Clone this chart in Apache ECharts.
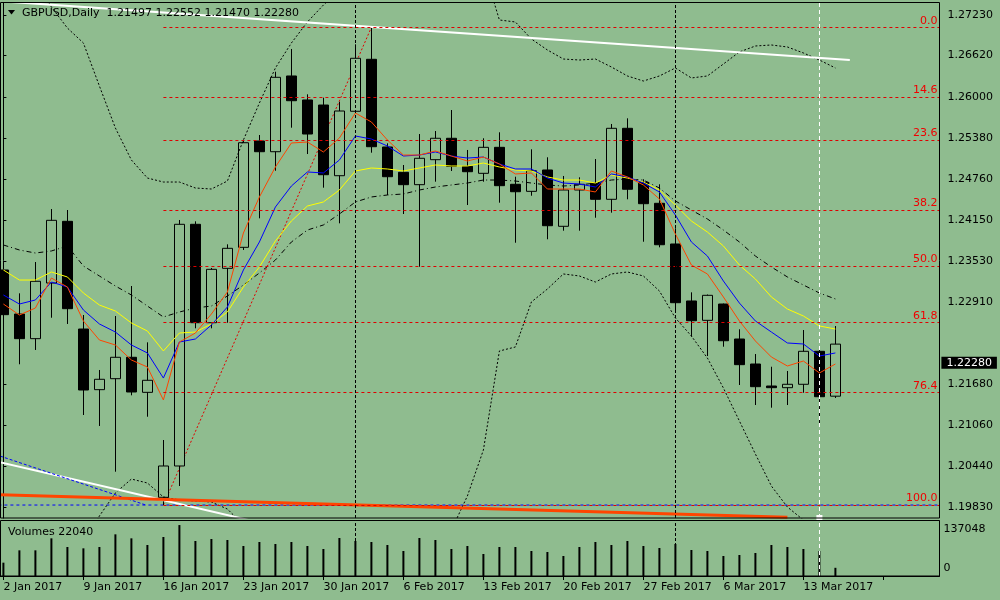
<!DOCTYPE html>
<html><head><meta charset="utf-8">
<script src="https://cdn.jsdelivr.net/npm/echarts@6/dist/echarts.min.js"></script>
<style>html,body{margin:0;padding:0;background:#8FBC8F}#c{width:1000px;height:600px}</style>
</head><body><div id="c"></div>
<script>
const dates = ['2 Jan 2017','3 Jan 2017','4 Jan 2017','5 Jan 2017','6 Jan 2017','9 Jan 2017','10 Jan 2017','11 Jan 2017','12 Jan 2017','13 Jan 2017',
'16 Jan 2017','17 Jan 2017','18 Jan 2017','19 Jan 2017','20 Jan 2017','23 Jan 2017','24 Jan 2017','25 Jan 2017','26 Jan 2017','27 Jan 2017',
'30 Jan 2017','31 Jan 2017','1 Feb 2017','2 Feb 2017','3 Feb 2017','6 Feb 2017','7 Feb 2017','8 Feb 2017','9 Feb 2017','10 Feb 2017',
'13 Feb 2017','14 Feb 2017','15 Feb 2017','16 Feb 2017','17 Feb 2017','20 Feb 2017','21 Feb 2017','22 Feb 2017','23 Feb 2017','24 Feb 2017',
'27 Feb 2017','28 Feb 2017','1 Mar 2017','2 Mar 2017','3 Mar 2017','6 Mar 2017','7 Mar 2017','8 Mar 2017','9 Mar 2017','10 Mar 2017',
'13 Mar 2017','14 Mar 2017','15 Mar 2017'];
const emptySlots = ['','','','','',''];
const opens = [1.23395,1.22733,1.22362,1.23199,1.24127,1.22507,1.21595,1.21760,1.22082,1.21555,
1.19976,1.20447,1.24082,1.22602,1.23420,1.23736,1.25335,1.25174,1.26313,1.25952,
1.25876,1.24813,1.25782,1.26564,1.25245,1.24864,1.24678,1.25054,1.25376,1.24954,
1.24849,1.25240,1.24684,1.24578,1.24899,1.24052,1.24598,1.24699,1.24458,1.25526,
1.24714,1.24398,1.23786,1.22929,1.22638,1.22883,1.22357,1.21981,1.21650,1.21625,
1.21676,1.22172,1.21497];
const highs = [1.23530,1.23044,1.23515,1.24312,1.24297,1.22718,1.21891,1.22703,1.23154,1.22307,
1.20838,1.24147,1.24127,1.23425,1.23781,1.25350,1.25425,1.26377,1.26719,1.26037,
1.25986,1.25926,1.26789,1.27050,1.25300,1.24974,1.25440,1.25485,1.25801,1.25200,
1.25376,1.25466,1.24798,1.25210,1.25090,1.24809,1.24789,1.25064,1.25591,1.25676,
1.24759,1.24684,1.24022,1.23059,1.23026,1.22890,1.22503,1.22131,1.21940,1.21876,
1.22492,1.22192,1.22552];
const lows = [1.22703,1.21977,1.22192,1.22677,1.22583,1.21214,1.21049,1.20361,1.21510,1.21188,
1.19860,1.20146,1.22518,1.22518,1.22602,1.23696,1.24172,1.24888,1.25535,1.25139,
1.24633,1.24097,1.25756,1.25159,1.24523,1.24237,1.23444,1.24723,1.24884,1.24372,
1.24723,1.24407,1.23805,1.24512,1.23857,1.23986,1.23986,1.24181,1.24257,1.24458,
1.23820,1.23736,1.22763,1.22392,1.22101,1.22241,1.21665,1.21364,1.21324,1.21364,
1.21549,1.21064,1.21470];
const closes = [1.22723,1.22362,1.23225,1.24142,1.22813,1.21590,1.21751,1.22082,1.21560,1.21736,
1.20447,1.24082,1.22602,1.23405,1.23721,1.25309,1.25174,1.26293,1.25941,1.25440,
1.24828,1.25786,1.26579,1.25249,1.24798,1.24678,1.25075,1.25376,1.24954,1.24873,
1.25240,1.24663,1.24572,1.24888,1.24061,1.24598,1.24684,1.24458,1.25526,1.24609,
1.24392,1.23775,1.22903,1.22632,1.23014,1.22331,1.21971,1.21640,1.21625,1.21676,
1.22172,1.21489,1.22280];
const volumes = [35880,69070,69070,101360,78040,74450,78040,112130,101360,83420,
104950,137048,94190,99570,96880,80730,91490,86110,91490,80730,
72660,102260,94190,91490,83420,67280,102260,96880,72660,80730,
59200,78040,78040,67280,64580,53820,78040,91490,83420,94190,
80730,75350,86110,69970,67280,53820,56510,61890,83420,78040,
72660,67280,22040];
const maRed = [1.22883,1.22718,1.22823,1.23274,1.23139,1.22628,1.22342,1.22267,1.22041,1.21936,
1.2144,1.22312,1.22447,1.22733,1.23064,1.23951,1.24493,1.24944,1.25305,1.2532,
1.2517,1.2538,1.25756,1.25621,1.2535,1.25124,1.25124,1.25185,1.25109,1.25034,
1.25094,1.24989,1.24839,1.24854,1.24613,1.24613,1.24613,1.24568,1.24884,1.24794,
1.24673,1.24463,1.23936,1.2347,1.23335,1.22989,1.22628,1.22327,1.22086,1.21951,
1.22026,1.21846,1.21981];
const maBlue = [1.23019,1.22883,1.22944,1.23214,1.23139,1.22793,1.22583,1.22462,1.22267,1.22147,
1.2177,1.22312,1.22357,1.22568,1.22838,1.23395,1.23816,1.24342,1.24658,1.24869,
1.24854,1.25049,1.2541,1.25365,1.2526,1.25109,1.25124,1.2517,1.25109,1.25079,
1.25094,1.24989,1.24914,1.24914,1.24778,1.24703,1.24688,1.24643,1.24839,1.24794,
1.24703,1.24568,1.24222,1.23816,1.23605,1.23229,1.22898,1.22628,1.22462,1.22297,
1.22282,1.22101,1.22147];
const maYellow = [1.23395,1.23244,1.23244,1.23365,1.2329,1.23049,1.22868,1.22778,1.22598,1.22477,
1.22177,1.22447,1.22462,1.22583,1.22763,1.23139,1.2344,1.23831,1.24132,1.24357,
1.24418,1.24598,1.24884,1.24929,1.24914,1.24884,1.24929,1.24974,1.24959,1.24959,
1.25004,1.24944,1.24899,1.24884,1.24794,1.24748,1.24748,1.24703,1.24824,1.24778,
1.24718,1.24598,1.24372,1.24132,1.23966,1.23756,1.2347,1.23259,1.22989,1.22808,
1.22703,1.22553,1.22507];
const maDashDot = [1.23771,1.23696,1.2365,1.23681,1.23756,1.23455,1.23305,1.23154,1.23019,1.22853,
1.22688,1.22763,1.22823,1.22853,1.23004,1.23169,1.2335,1.23545,1.23816,1.23996,
1.24072,1.24237,1.24418,1.24493,1.24523,1.24538,1.24598,1.24643,1.24673,1.24703,
1.24748,1.24748,1.24733,1.24703,1.24673,1.24658,1.24673,1.24703,1.24748,1.24763,
1.24748,1.24628,1.24433,1.24297,1.24162,1.23996,1.23816,1.23605,1.2344,1.2329,
1.23169,1.23049,1.22959];
const bandUpper = [1.28057,1.27907,1.27756,1.2735,1.27034,1.26809,1.26162,1.2553,1.25049,1.24778,
1.24718,1.24718,1.24628,1.24613,1.24733,1.2535,1.25906,1.26433,1.26809,1.27125,
1.2738,1.27606,1.27756,1.27907,1.27982,1.28027,1.28057,1.28057,1.28057,1.28027,
1.27952,1.27155,1.27125,1.26869,1.26704,1.26568,1.26553,1.26568,1.26448,1.26313,
1.26237,1.26313,1.26433,1.26283,1.26313,1.26493,1.26674,1.26764,1.26779,1.26749,
1.26659,1.26553,1.26433];
const bandLower = [1.18432,1.18507,1.18582,1.18732,1.18958,1.19259,1.19695,1.20041,1.20251,1.20191,
1.19981,1.19936,1.19921,1.19906,1.198,1.1956,1.19259,1.18958,1.18657,1.18432,
1.18281,1.18206,1.18206,1.18281,1.18432,1.18582,1.18808,1.19108,1.19484,1.19996,
1.20688,1.22177,1.22237,1.22914,1.23109,1.23335,1.23305,1.23214,1.23335,1.23365,
1.23305,1.23079,1.22673,1.22402,1.22071,1.2162,1.21124,1.20627,1.20146,1.1983,
1.19635,1.19259,1.19033];
const fibLevels = ['0.0','14.6','23.6','38.2','50.0','61.8','76.4','100.0'];
const fibPrices = [1.27045,1.25996,1.25349,1.2430,1.23453,1.22605,1.21556,1.1986];
const fibAnchor = [[10,1.1986],[23,1.27045]];
const priceTicks = [1.2723,1.2662,1.2600,1.2538,1.2476,1.2415,1.2353,1.2291,1.2168,1.2106,1.2044,1.1983];
const volumeTicks = [0,137048];
const trendTopWhite = [[-0.5,1.27443],[52.9,1.26553]];
const trendBottomWhite = [[-0.5,1.20519],[16,1.19597]];
const trendBlueDashed = [[-0.5,1.2062],[8.9,1.1986]];
const trendOrange = [[-0.5,1.20018],[49,1.19675]];
const supportBlue = [[-0.5,1.1986],[58.5,1.1986]];
const monthSeparators = [22,42];
const markerBar = 51;

const BG = '#8FBC8F';
const FONT = 'DejaVu Sans';
const cats = dates.concat(emptySlots);
const ohlc = dates.map((d,i)=>[opens[i],closes[i],lows[i],highs[i]]);
const last = dates.length-1;

const chart = echarts.init(document.getElementById('c'), null, {renderer:'canvas'});
const lineS = (name,data,color,type,extra)=>Object.assign({
  name, type:'line', xAxisIndex:0, yAxisIndex:0, data, symbol:'none', silent:true,
  lineStyle:{color, width:1, type}, z:3, animation:false, emphasis:{disabled:true}
}, extra||{});
const trendS = (data,color,width,type)=>({
  type:'line', xAxisIndex:2, yAxisIndex:0, data, symbol:'none', silent:true,
  lineStyle:{color,width,type}, z:4, animation:false, emphasis:{disabled:true}
});

const sepLines = monthSeparators.map(b=>({xAxis:b}));
sepLines.push({xAxis:markerBar, lineStyle:{color:'#fff', type:[4,3], width:1}, symbol:['none','triangle'], symbolSize:6, itemStyle:{color:'#fff'}});

const option = {
  backgroundColor: BG,
  animation:false,
  textStyle:{fontFamily:FONT},
  grid:[
    {left:-4.6, right:60.6, top:3, height:515, outerBoundsMode:'none', containLabel:false},
    {left:-4.6, right:60.6, top:521, height:55, outerBoundsMode:'none', containLabel:false}
  ],
  xAxis:[
    {type:'category', gridIndex:0, data:cats, boundaryGap:true, show:false},
    {type:'category', gridIndex:1, data:cats, boundaryGap:true,
     axisLine:{show:true, lineStyle:{color:'#000', width:1}},
     axisTick:{show:true, interval:4, alignWithLabel:true, length:4, lineStyle:{color:'#000'}},
     axisLabel:{interval:4, align:'left', color:'#000', fontSize:11, fontFamily:FONT, margin:6},
     splitLine:{show:false}},
    {type:'value', gridIndex:0, min:-0.5, max:58.5, show:false}
  ],
  yAxis:[
    {type:'value', gridIndex:0, position:'right', min:1.196649, max:1.274105, scale:true,
     axisLine:{show:true, lineStyle:{color:'#000'}},
     axisTick:{show:true, length:3, customValues:priceTicks, lineStyle:{color:'#000'}},
     axisLabel:{customValues:priceTicks, formatter:v=>v.toFixed(5), color:'#000', fontSize:11, fontFamily:FONT, margin:8},
     splitLine:{show:false}},
    {type:'value', gridIndex:1, position:'right', min:0, max:148000,
     axisLine:{show:true, lineStyle:{color:'#000'}},
     axisTick:{show:false},
     axisLabel:{customValues:volumeTicks, margin:4, color:'#000', fontSize:11, fontFamily:FONT,
       formatter:v=> v===0 ? '{b|0}' : '{t|'+v+'}',
       rich:{t:{padding:[8,0,0,0], fontSize:11, fontFamily:FONT, color:'#000'}, b:{padding:[0,0,16,0], fontSize:11, fontFamily:FONT, color:'#000'}}},
     splitLine:{show:false}}
  ],
  graphic:[
    {type:'rect', shape:{x:0.5,y:2.5,width:939,height:515.5}, style:{fill:'none', stroke:'#000', lineWidth:1}, silent:true, z:10},
    {type:'rect', shape:{x:0.5,y:520.5,width:939,height:55.5}, style:{fill:'none', stroke:'#000', lineWidth:1}, silent:true, z:10},
    {type:'polygon', shape:{points:[[8,10],[15,10],[11.5,14.5]]}, style:{fill:'#000'}, silent:true, z:10},
    {type:'text', x:22, y:13, style:{text:'GBPUSD,Daily  '+[opens[last],highs[last],lows[last],closes[last]].map(v=>v.toFixed(5)).join(' '), font:'11px "DejaVu Sans"', fill:'#000', verticalAlign:'middle'}, silent:true, z:10},
    {type:'text', x:8, y:532, style:{text:'Volumes '+volumes[last], font:'11px "DejaVu Sans"', fill:'#000', verticalAlign:'middle'}, silent:true, z:10}
  ],
  series:[
    {name:'fib', type:'line', xAxisIndex:2, yAxisIndex:0, data:fibAnchor, symbol:'none', silent:true, z:1, animation:false,
     lineStyle:{color:'#e00000', width:1, type:[2,2]},
     markLine:{silent:true, symbol:['none','none'], animation:false,
       lineStyle:{color:'#e00000', width:1, type:[3,3]},
       label:{show:true, position:'insideEndTop', formatter:'{b}', color:'#f00000', fontSize:11, fontFamily:FONT, distance:[2,1]},
       data: fibPrices.map((p,i)=>[{coord:[10,p], name:fibLevels[i]},{coord:[58.5,p]}])}},
    {name:'support', type:'line', xAxisIndex:2, yAxisIndex:0, data:supportBlue, symbol:'none', silent:true, z:1, animation:false,
     lineStyle:{color:'#0000ff', width:1, type:[3,3], dashOffset:3}},
    {name:'GBPUSD', type:'candlestick', xAxisIndex:0, yAxisIndex:0, data:ohlc, barWidth:10, z:2, silent:true, animation:false,
     itemStyle:{color:BG, color0:'#000', borderColor:'#000', borderColor0:'#000', borderWidth:1},
     markLine:{silent:true, symbol:['none','none'], animation:false,
       lineStyle:{color:'rgba(0,0,0,0)', width:0},
       label:{show:true, position:'end', formatter:closes[last].toFixed(5), color:'#fff', backgroundColor:'#000', padding:[1,5,0,5], fontSize:11, fontFamily:FONT, distance:2},
       data:[{yAxis:closes[last]}]}},
    lineS('bandUpper', bandUpper, '#000', [2,2]),
    lineS('bandLower', bandLower, '#000', [2,2]),
    lineS('maDashDot', maDashDot, '#000', [5,3,1,3]),
    lineS('maYellow', maYellow, '#ffff00', 'solid'),
    lineS('maBlue', maBlue, '#0000ff', 'solid'),
    lineS('maRed', maRed, '#ff4500', 'solid'),
    trendS(trendTopWhite, '#ffffff', 2, 'solid'),
    trendS(trendBottomWhite, '#ffffff', 2, 'solid'),
    trendS(trendBlueDashed, '#0000ff', 1, [3,2]),
    trendS(trendOrange, '#ff4500', 3, 'solid'),
    {name:'separators', type:'line', xAxisIndex:2, yAxisIndex:0, data:[], symbol:'none', silent:true, z:3, animation:false,
     markLine:{silent:true, symbol:['none','none'], animation:false, label:{show:false},
       lineStyle:{color:'#000', width:1, type:[3,2]}, data:sepLines}},
    {name:'Volumes', type:'bar', xAxisIndex:1, yAxisIndex:1, data:volumes, barWidth:2, silent:true, animation:false,
     itemStyle:{color:'#000'},
     markLine:{silent:true, symbol:['none','none'], animation:false, label:{show:false},
       lineStyle:{color:'#000', width:1, type:[3,2]},
       data:monthSeparators.map(b=>({xAxis:b})).concat([{xAxis:markerBar, lineStyle:{color:'#fff', type:[4,3], width:1}}])}}
  ]
};
chart.setOption(option);
</script></body></html>
